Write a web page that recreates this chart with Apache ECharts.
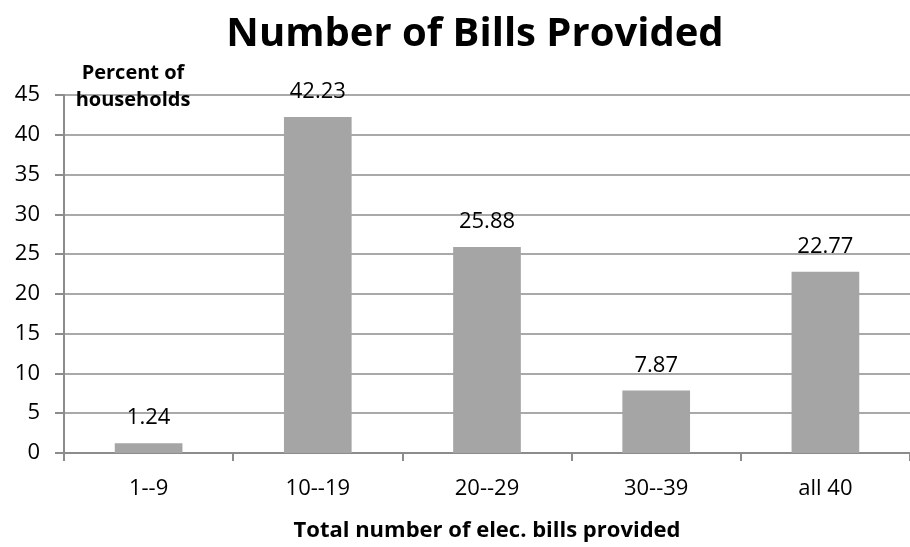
<!DOCTYPE html>
<html><head><meta charset="utf-8">
<script src="https://cdn.jsdelivr.net/npm/echarts@6/dist/echarts.min.js"></script>
<style>html,body{margin:0;padding:0;background:#fff}#c{width:910px;height:547px}</style>
</head><body><div id="c"></div>
<script>
const categories = ['1--9', '10--19', '20--29', '30--39', 'all 40'];
const values = [1.24, 42.23, 25.88, 7.87, 22.77];
const titleText = 'Number of Bills Provided';
const yName = 'Percent of\nhouseholds';
const xName = 'Total number of elec. bills provided';
const font = '"Open Sans", "Liberation Sans", sans-serif';
const chart = echarts.init(document.getElementById('c'));
chart.setOption({
  backgroundColor: '#fff',
  animation: false,
  title: [
    {text: titleText, left: 470, top: 10, textAlign: 'center',
     textStyle: {fontFamily: font, fontWeight: 'bold', fontSize: 40, color: '#000'}},
    {text: yName, left: 128, top: 55, textAlign: 'center',
     textStyle: {fontFamily: font, fontWeight: 'bold', fontSize: 20, color: '#000', lineHeight: 27}}
  ],
  grid: {left: 64, top: 95, width: 855, height: 366},
  xAxis: {
    type: 'category', data: categories,
    name: xName, nameLocation: 'middle', nameGap: 67,
    nameTextStyle: {fontFamily: font, fontWeight: 'bold', fontSize: 22, color: '#000'},
    axisLine: {lineStyle: {color: '#8c8c8c', width: 2}},
    axisTick: {show: true, length: 8, lineStyle: {color: '#8c8c8c', width: 2}},
    axisLabel: {fontFamily: font, fontSize: 22, color: '#000', margin: 25}
  },
  yAxis: {
    type: 'value', min: 0, max: 45, interval: 5,
    axisLine: {show: true, lineStyle: {color: '#8c8c8c', width: 2}},
    axisTick: {show: true, length: 9, lineStyle: {color: '#8c8c8c', width: 2}},
    splitLine: {lineStyle: {color: '#8c8c8c', width: 1.5}},
    axisLabel: {fontFamily: font, fontSize: 22, color: '#000', margin: 24}
  },
  series: [{
    type: 'bar', data: values, barWidth: '40%',
    itemStyle: {color: '#a5a5a5'},
    label: {show: true, position: 'top', distance: 14, fontFamily: font, fontSize: 22, color: '#000'}
  }]
});
</script></body></html>
